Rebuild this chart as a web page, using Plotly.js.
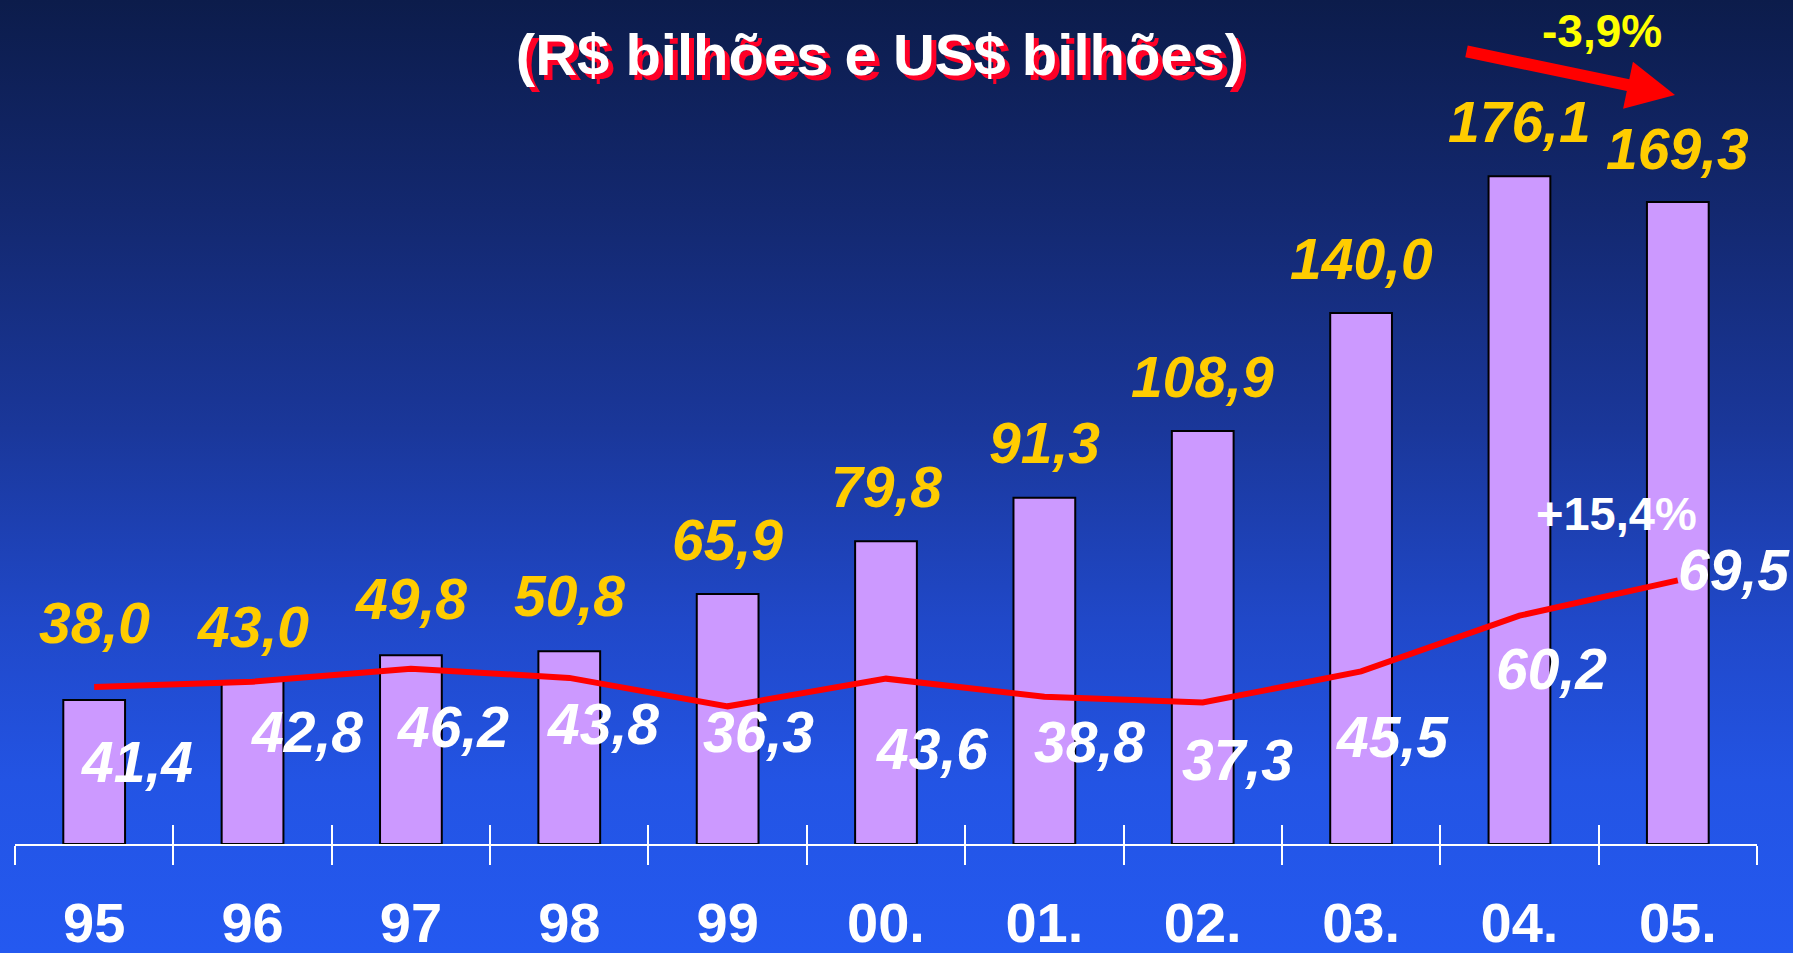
<!DOCTYPE html>
<html>
<head>
<meta charset="utf-8">
<script src="https://cdn.plot.ly/plotly-3.0.1.min.js"></script>
<style>
  html, body { margin: 0; padding: 0; width: 1793px; height: 953px; overflow: hidden;
    background: linear-gradient(to bottom, #0c1c4b 0%, #13286f 22%, #1a379a 45%, #2048c8 65%, #2354e4 82%, #2459f0 100%); }
  #chart { width: 1793px; height: 953px; }
</style>
</head>
<body>
<div id="chart"></div>
<script>
// ---- data ----
const years = ["95", "96", "97", "98", "99", "00.", "01.", "02.", "03.", "04.", "05."];
const brl = [38.0, 43.0, 49.8, 50.8, 65.9, 79.8, 91.3, 108.9, 140.0, 176.1, 169.3];
const usd = [41.4, 42.8, 46.2, 43.8, 36.3, 43.6, 38.8, 37.3, 45.5, 60.2, 69.5];
const brlLabels = ["38,0", "43,0", "49,8", "50,8", "65,9", "79,8", "91,3", "108,9", "140,0", "176,1", "169,3"];
const usdLabels = ["41,4", "42,8", "46,2", "43,8", "36,3", "43,6", "38,8", "37,3", "45,5", "60,2", "69,5"];
const titleText = "(R$ bilhões e US$ bilhões)";
const brlChange = "-3,9%";
const usdChange = "+15,4%";

// ---- layout geometry / styles ----
const W = 1793, H = 953;
const M = {l: 15, r: 36, t: 40, b: 109};
const plotW = W - M.l - M.r, plotH = H - M.t - M.b;
const yMax = 212;
const px = (x) => (x - M.l) / plotW;
const py = (y) => (H - M.b - y) / plotH;

const brlShift = [77, 54, 56, 55, 54, 54, 55, 54, 54, 54, 53];
const usdDx = [43, 54, 42, 34, 31, 46, 45, 35, 31, 32, 56];
const usdDy = [75, 50, 58, 46, 26, 70, 45, 57, 66, 53, -10];

const FONT = "Liberation Sans, Arial, Helvetica, sans-serif";

const bars = {
  type: "bar", x: years, y: brl, name: "R$ bilhões",
  marker: {color: "#cc99ff", line: {color: "#000000", width: 2}},
  hoverinfo: "x+y"
};
const line = {
  type: "scatter", mode: "lines", x: years, y: usd, name: "US$ bilhões",
  xaxis: "x2", yaxis: "y",
  line: {color: "#ff0000", width: 6},
  hoverinfo: "x+y"
};

const annotations = [];
years.forEach((yr, i) => {
  // category axis: numeric x = category index (labels like "00." would parse as numbers)
  annotations.push({
    x: i, y: brl[i], xref: "x", yref: "y", text: brlLabels[i], showarrow: false,
    xanchor: "center", yanchor: "middle", yshift: brlShift[i],
    font: {family: FONT, size: 57, color: "#ffcc00", weight: "bold", style: "italic"}
  });
  annotations.push({
    x: i, y: usd[i], xref: "x", yref: "y", text: usdLabels[i], showarrow: false,
    xanchor: "center", yanchor: "middle", xshift: usdDx[i], yshift: -usdDy[i],
    font: {family: FONT, size: 57, color: "#ffffff", weight: "bold", style: "italic"}
  });
});
annotations.push({
  xref: "paper", yref: "paper", x: px(1602), y: py(31), text: brlChange, showarrow: false,
  xanchor: "center", yanchor: "middle",
  font: {family: FONT, size: 46, color: "#ffff00", weight: "bold"}
});
annotations.push({
  xref: "paper", yref: "paper", x: px(1616), y: py(513), text: usdChange, showarrow: false,
  xanchor: "center", yanchor: "middle",
  font: {family: FONT, size: 47, color: "#ffffff", weight: "bold"}
});
annotations.push({
  xref: "paper", yref: "paper", x: px(1675), y: py(95), text: "",
  showarrow: true, axref: "pixel", ayref: "pixel", ax: -210, ay: -44,
  arrowhead: 2, arrowsize: 0.8, arrowwidth: 12, arrowcolor: "#ff0000", standoff: 0
});

const xCommon = {
  type: "category", categoryorder: "array", categoryarray: years,
  range: [-0.5, 10.5], tickson: "boundaries",
  ticklen: 19, tickwidth: 2, tickcolor: "#ffffff",
  showgrid: false, zeroline: false, fixedrange: true
};

const layout = {
  width: W, height: H,
  margin: M,
  paper_bgcolor: "rgba(0,0,0,0)", plot_bgcolor: "rgba(0,0,0,0)",
  showlegend: false,
  bargap: 0.61,
  title: {
    text: titleText, xref: "container", yref: "container",
    x: 880 / W, y: 1 - 55 / H, xanchor: "center", yanchor: "middle",
    font: {family: FONT, size: 58, color: "#ffffff", weight: "bold", shadow: "5px 5px 0px #ff0026"}
  },
  xaxis: Object.assign({}, xCommon, {
    ticks: "outside", showline: true, linecolor: "#ffffff", linewidth: 2,
    showticklabels: true, ticklabelstandoff: 29,
    tickfont: {family: FONT, size: 56, color: "#ffffff", weight: "bold"}
  }),
  xaxis2: Object.assign({}, xCommon, {
    overlaying: "x", anchor: "y", side: "bottom",
    ticks: "inside", showline: false, showticklabels: false
  }),
  yaxis: {range: [0, yMax], visible: false, showgrid: false, zeroline: false, fixedrange: true},
  annotations: annotations
};

Plotly.newPlot("chart", [bars, line], layout, {displayModeBar: false, staticPlot: true});
</script>
</body>
</html>
